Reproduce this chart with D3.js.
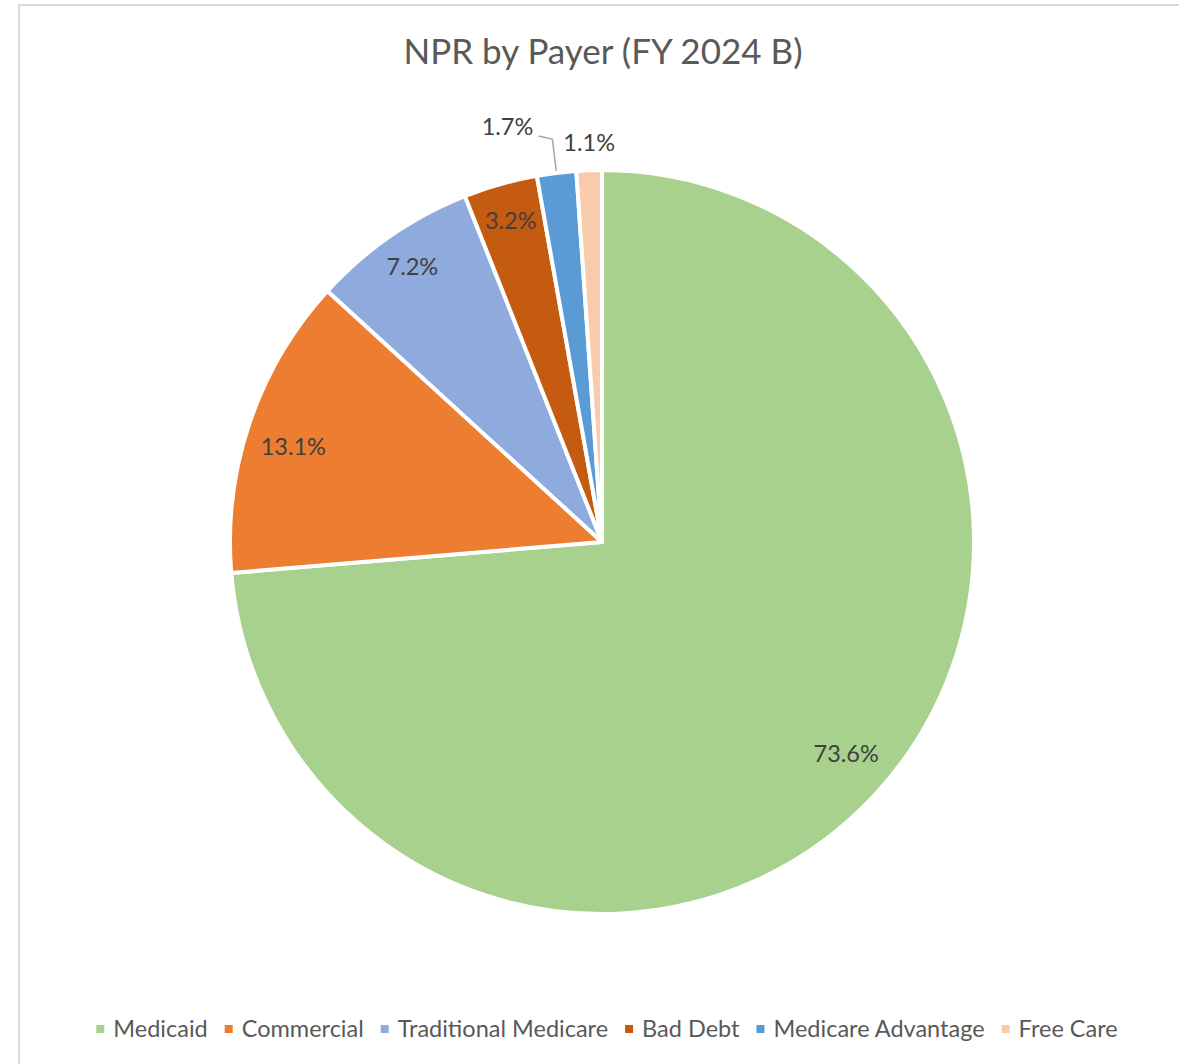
<!DOCTYPE html>
<html>
<head>
<meta charset="utf-8">
<title>NPR by Payer</title>
<script src="https://cdn.jsdelivr.net/npm/d3@7"></script>
<style>
  body { margin: 0; background: #fff; }
  svg { display: block; font-family: Lato, "Open Sans", sans-serif; }
</style>
</head>
<body>
<script>
  var payers = ['Medicaid', 'Commercial', 'Traditional Medicare', 'Bad Debt', 'Medicare Advantage', 'Free Care'];
  var shares = [73.6, 13.1, 7.2, 3.2, 1.7, 1.1];
  var colors = ['#A9D18E', '#ED7D31', '#8FAADC', '#C55A11', '#5B9BD5', '#F8CBAD'];

  var width = 1179,
    height = 1064,
    cx = 602,
    cy = 542,
    radius = 372;

  var svg = d3.select('body').append('svg')
    .attr('width', width)
    .attr('height', height);

  // chart frame (only the top and left edges are visible in the crop)
  svg.append('rect')
    .attr('x', 19).attr('y', 5)
    .attr('width', width + 20).attr('height', height + 20)
    .attr('fill', '#fff')
    .attr('stroke', '#d9d9d9')
    .attr('stroke-width', 2);

  svg.append('text')
    .attr('x', 603).attr('y', 64)
    .attr('text-anchor', 'middle')
    .attr('fill', '#595959')
    .style('font-size', '35px')
    .text('NPR by Payer (FY 2024 B)');

  var data = payers.map(function (p, i) {
    return { name: p, value: shares[i], color: colors[i] };
  });

  var pie = d3.pie().sort(null).value(function (d) { return d.value; });
  var arcs = pie(data);

  var arc = d3.arc().innerRadius(0).outerRadius(radius);

  var g = svg.append('g').attr('transform', 'translate(' + cx + ',' + cy + ')');

  g.selectAll('path.slice')
    .data(arcs)
    .enter().append('path')
    .attr('class', 'slice')
    .attr('d', arc)
    .attr('fill', function (d) { return d.data.color; })
    .attr('stroke', '#fff')
    .attr('stroke-width', 4)
    .attr('stroke-linejoin', 'round');

  function polar(a, r) {
    return [Math.sin(a) * r, -Math.cos(a) * r];
  }
  function mid(d) { return (d.startAngle + d.endAngle) / 2; }

  var labelFmt = function (v) { return v.toFixed(1) + '%'; };

  function label(x, y, txt, anchor) {
    g.append('text')
      .attr('x', x).attr('y', y)
      .attr('dy', '0.35em')
      .attr('text-anchor', anchor || 'middle')
      .attr('fill', '#404040')
      .style('font-size', '23.5px')
      .text(txt);
  }

  arcs.forEach(function (d, i) {
    var a = mid(d), p;
    if (d.data.value >= 10) {
      // big slices: label sits a little back from the bisector
      p = polar(a - 0.03, 323);
      label(p[0], p[1], labelFmt(d.data.value));
    } else if (d.data.value >= 2) {
      p = polar(a, 334);
      label(p[0], p[1], labelFmt(d.data.value));
    } else if (i === 4) {
      // label pushed aside with a leader line
      var p0 = polar(a, radius + 2);
      var p1 = polar(a, radius + 34);
      var p2 = [p1[0] - 14, p1[1] - 3];
      g.append('polyline')
        .attr('points', [p0, p1, p2].map(function (q) { return q.join(','); }).join(' '))
        .attr('fill', 'none')
        .attr('stroke', '#a6a6a6')
        .attr('stroke-width', 1.5);
      label(p2[0] - 5, p2[1] - 9, labelFmt(d.data.value), 'end');
    } else {
      p = polar(a, radius + 28);
      label(p[0] + 1, p[1] + 1, labelFmt(d.data.value));
    }
  });

  // legend, centred under the pie
  var legend = svg.append('g');
  var x = 0;
  data.forEach(function (d) {
    var item = legend.append('g').attr('transform', 'translate(' + x + ',0)');
    item.append('rect')
      .attr('x', 0).attr('y', -4)
      .attr('width', 8).attr('height', 8)
      .attr('fill', d.color);
    var t = item.append('text')
      .attr('x', 17).attr('y', 0)
      .attr('dy', '0.35em')
      .attr('fill', '#595959')
      .style('font-size', '23.5px')
      .text(d.name);
    x += 17 + t.node().getComputedTextLength() + 17;
  });
  var total = x - 17;
  legend.attr('transform', 'translate(' + (607 - total / 2) + ',1029)');
</script>
</body>
</html>
